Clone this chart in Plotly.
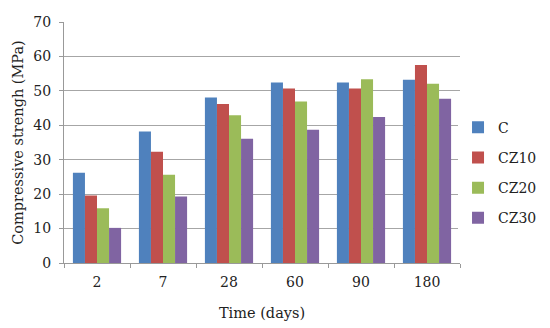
import plotly.graph_objects as go

days = ["2", "7", "28", "60", "90", "180"]
series_names = ["C", "CZ10", "CZ20", "CZ30"]
c_vals = [26.2, 38.2, 48.1, 52.4, 52.4, 53.2]
cz10_vals = [19.6, 32.3, 46.2, 50.7, 50.7, 57.5]
cz20_vals = [15.9, 25.6, 42.9, 46.9, 53.4, 52.1]
cz30_vals = [10.2, 19.3, 36.1, 38.7, 42.4, 47.7]
colors = ["#4F81BD", "#C0504D", "#9BBB59", "#8064A2"]

fig = go.Figure()
for name, vals, col in zip(series_names, [c_vals, cz10_vals, cz20_vals, cz30_vals], colors):
    fig.add_trace(go.Bar(x=days, y=vals, name=name, legendgroup=name,
                         marker=dict(color=col, line=dict(width=0))))

font_family = "DejaVu Serif, Liberation Serif, serif"
fig.update_layout(
    width=542, height=320,
    margin=dict(l=56, r=90, t=14, b=65, autoexpand=False),
    paper_bgcolor="white", plot_bgcolor="white",
    barmode="group", bargap=0.27, bargroupgap=0,
    font=dict(family=font_family, size=14, color="#222"),
    legend=dict(x=0.995, y=0.375, xanchor="left", yanchor="middle",
                font=dict(size=14), tracegroupgap=9, itemwidth=30),
    showlegend=True,
)
fig.update_xaxes(
    type="category", showline=True, linecolor="#999", linewidth=1,
    ticks="outside", tickson="boundaries", ticklen=4, tickcolor="#999",
    tickfont=dict(size=14), automargin=False, ticklabelstandoff=6,
    title=dict(text="Time (days)", font=dict(size=14.5), standoff=19),
)
fig.update_yaxes(
    range=[0, 70], dtick=10, showline=True, linecolor="#999", linewidth=1,
    gridcolor="#A6A6A6", gridwidth=1, zeroline=False,
    ticks="outside", ticklen=4, tickcolor="#999",
    tickfont=dict(size=14), automargin=False, ticklabelstandoff=5,
    title=dict(text="Compressive strengh (MPa)", font=dict(size=14.5), standoff=6),
)
fig.write_html("out.html")
